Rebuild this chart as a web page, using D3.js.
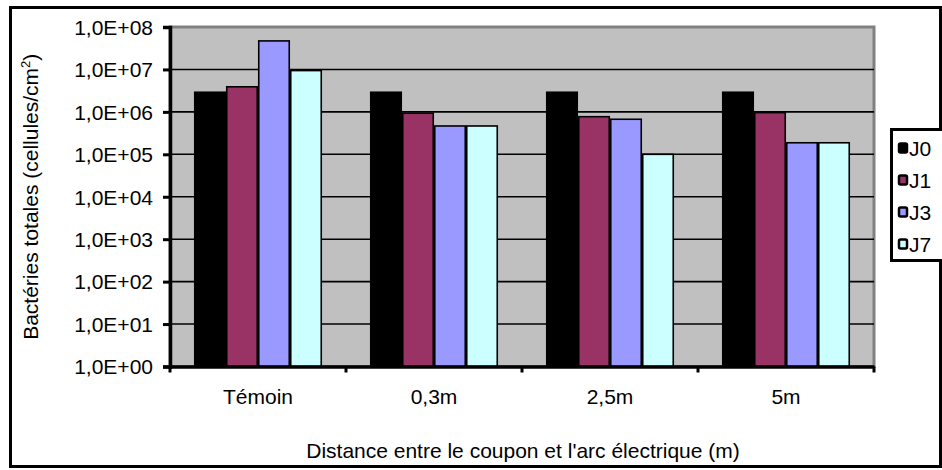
<!DOCTYPE html>
<html>
<head>
<meta charset="utf-8">
<script src="https://cdn.jsdelivr.net/npm/d3@7"></script>
<style>
  html, body { margin: 0; padding: 0; background: #fff; }
  svg { display: block; }
  text { font-family: Arial, "Liberation Sans", sans-serif; fill: #000; }
</style>
</head>
<body>
<svg id="chart" width="942" height="470"></svg>
<script>
// ---- data ----
const categories = ["Témoin", "0,3m", "2,5m", "5m"];
const seriesNames = ["J0", "J1", "J3", "J7"];
const J0 = [2.9e6, 2.9e6, 2.9e6, 2.9e6];
const J1 = [3.9e6, 9.3e5, 7.7e5, 9.6e5];
const J3 = [4.7e7, 4.65e5, 6.7e5, 1.87e5];
const J7 = [9.4e6, 4.65e5, 1.0e5, 1.87e5];
const seriesColors = ["#000000", "#993366", "#9999FF", "#CCFFFF"];
const yTickValues = [1e0, 1e1, 1e2, 1e3, 1e4, 1e5, 1e6, 1e7, 1e8];
const yTickLabels = ["1,0E+00", "1,0E+01", "1,0E+02", "1,0E+03", "1,0E+04", "1,0E+05", "1,0E+06", "1,0E+07", "1,0E+08"];
const xTitle = "Distance entre le coupon et l'arc électrique (m)";
const yTitle = "Bactéries totales (cellules/cm";

const seriesValues = [J0, J1, J3, J7];

const svg = d3.select("#chart");
const FS = 21;

// outer border
svg.append("rect").attr("x", 10.5).attr("y", 7.5).attr("width", 930).attr("height", 459)
  .attr("fill", "#fff").attr("stroke", "#000").attr("stroke-width", 3);

const plot = { left: 170, right: 874, top: 27, bottom: 366.5 };

const x = d3.scaleBand().domain(categories).range([plot.left, plot.right])
  .paddingInner(48 / 176).paddingOuter(24 / 176);
const xs = d3.scaleBand().domain(seriesNames).range([0, x.bandwidth()]).padding(0);
const y = d3.scaleLog().domain([1, 1e8]).range([plot.bottom, plot.top]);

// plot background
svg.append("rect").attr("x", plot.left).attr("y", plot.top)
  .attr("width", plot.right - plot.left).attr("height", plot.bottom - plot.top)
  .attr("fill", "#C0C0C0").attr("stroke", "#808080").attr("stroke-width", 3);

// gridlines
svg.append("g").selectAll("line").data(yTickValues.slice(1, -1)).join("line")
  .attr("x1", plot.left).attr("x2", plot.right)
  .attr("y1", d => y(d)).attr("y2", d => y(d))
  .attr("stroke", "#000").attr("stroke-width", 1.6);

// bars
const groups = svg.append("g").selectAll("g").data(categories).join("g")
  .attr("transform", d => `translate(${x(d)},0)`);
groups.selectAll("rect").data((c, ci) => seriesNames.map((s, si) => ({ s, si, v: seriesValues[si][ci] })))
  .join("rect")
  .attr("x", d => xs(d.s) + 0.75)
  .attr("width", xs.bandwidth() - 1.5)
  .attr("y", d => y(d.v))
  .attr("height", d => plot.bottom - y(d.v))
  .attr("fill", d => seriesColors[d.si])
  .attr("stroke", "#000").attr("stroke-width", 1.6);

// y axis
const yAxis = d3.axisLeft(y).tickValues(yTickValues)
  .tickFormat((d, i) => yTickLabels[i]).tickSize(7).tickPadding(10);
const gy = svg.append("g").attr("transform", `translate(${plot.left},0)`).call(yAxis);
gy.select(".domain").attr("stroke", "#000").attr("stroke-width", 3.5);
gy.selectAll(".tick line").attr("stroke", "#000").attr("stroke-width", 3);
gy.selectAll(".tick text").attr("font-size", FS).attr("font-family", "Arial, 'Liberation Sans', sans-serif").attr("dy", "0.35em");

// x axis
const xAxis = d3.axisBottom(x).tickSize(0).tickPadding(23);
const gx = svg.append("g").attr("transform", `translate(0,${plot.bottom})`).call(xAxis);
gx.select(".domain").attr("stroke", "#000").attr("stroke-width", 3.5);
gx.selectAll(".tick text").attr("font-size", FS).attr("font-family", "Arial, 'Liberation Sans', sans-serif");
// category boundary ticks
const bounds = d3.range(categories.length + 1).map(i => plot.left + i * x.step());
svg.append("g").selectAll("line").data(bounds).join("line")
  .attr("x1", d => d).attr("x2", d => d)
  .attr("y1", plot.bottom).attr("y2", plot.bottom + 6)
  .attr("stroke", "#000").attr("stroke-width", 3);

// axis titles
svg.append("text").attr("x", (plot.left + plot.right) / 2 + 1).attr("y", 458)
  .attr("text-anchor", "middle").attr("font-size", FS).text(xTitle);

const yt = svg.append("text")
  .attr("transform", `translate(38,${(plot.top + plot.bottom) / 2}) rotate(-90)`)
  .attr("text-anchor", "middle").attr("font-size", FS);
yt.append("tspan").text(yTitle);
yt.append("tspan").attr("font-size", 13).attr("dy", -8).text("2");
yt.append("tspan").attr("dy", 8).text(")");

// legend
const lg = svg.append("g");
lg.append("rect").attr("x", 891.5).attr("y", 129.5).attr("width", 70).attr("height", 131)
  .attr("fill", "#fff").attr("stroke", "#000").attr("stroke-width", 3);
const items = lg.selectAll("g").data(seriesNames).join("g")
  .attr("transform", (d, i) => `translate(898,${148 + i * 32})`);
items.append("rect").attr("x", 1).attr("y", -4.5).attr("width", 8).attr("height", 9)
  .attr("rx", 1.5)
  .attr("fill", (d, i) => seriesColors[i]).attr("stroke", "#000").attr("stroke-width", 2.5);
items.append("text").attr("x", 11).attr("y", 0).attr("dy", "0.36em")
  .attr("font-size", FS).text(d => d);
</script>
</body>
</html>
